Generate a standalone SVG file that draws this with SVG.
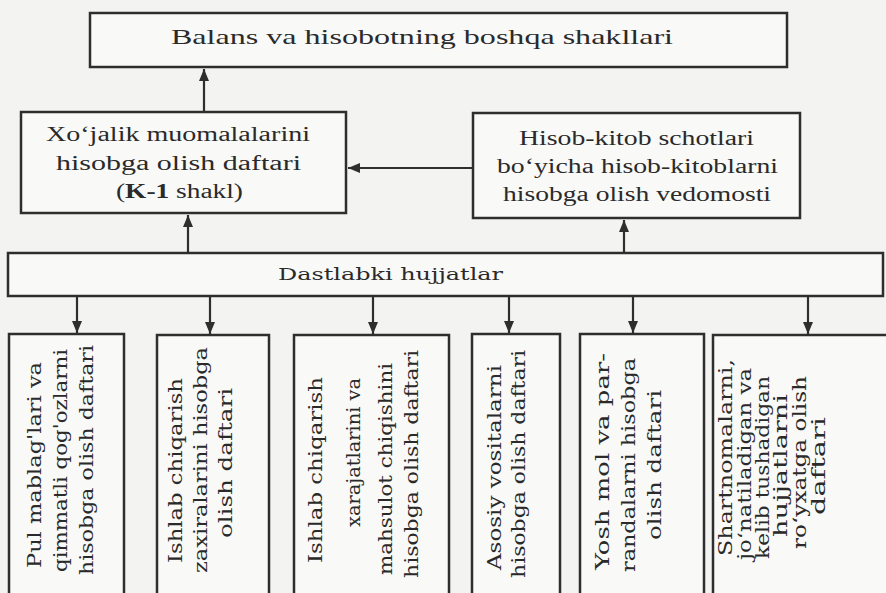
<svg xmlns="http://www.w3.org/2000/svg" width="886" height="593" viewBox="0 0 886 593">
<style>
.bx{fill:#f9f9f7;stroke:#2e2e2e;stroke-width:2.5}
.tt{font-family:"Liberation Serif","Times New Roman",serif;fill:#2a2a2a}
.tv{font-family:"DejaVu Serif","Liberation Serif",serif;font-size:18px;fill:#2a2a2a}
.cn{stroke:#2e2e2e;stroke-width:2.2;fill:none;marker-end:url(#ah)}
</style>
<defs>
<marker id="ah" viewBox="0 0 12 10" refX="12" refY="5" markerWidth="12" markerHeight="10" markerUnits="userSpaceOnUse" orient="auto">
<path d="M0,0 L12,5 L0,10 z" fill="#2e2e2e"/>
</marker>
</defs>
<rect width="886" height="593" fill="#f3f3f1"/>

<g id="connectors">
<path class="cn" d="M204,112 V69"/>
<path class="cn" d="M473,168 H348"/>
<path class="cn" d="M188,253 V215"/>
<path class="cn" d="M624,253 V220"/>
<path class="cn" d="M77,296 V333"/>
<path class="cn" d="M210,296 V334"/>
<path class="cn" d="M373,296 V334"/>
<path class="cn" d="M509,296 V333"/>
<path class="cn" d="M633,296 V333"/>
<path class="cn" d="M808,296 V334"/>
</g>

<g id="balans">
<rect class="bx" x="90" y="13" width="697" height="54"/>
<text class="tt" x="171" y="44" font-size="22" textLength="502" lengthAdjust="spacingAndGlyphs">Balans va hisobotning boshqa shakllari</text>
</g>

<g id="xojalik">
<rect class="bx" x="21" y="112" width="325" height="101"/>
<text class="tt" x="46" y="141" font-size="20" textLength="264" lengthAdjust="spacingAndGlyphs">Xo‘jalik muomalalarini</text>
<text class="tt" x="56" y="170" font-size="20" textLength="245" lengthAdjust="spacingAndGlyphs">hisobga olish  daftari</text>
<text class="tt" x="116" y="198" font-size="20" textLength="127" lengthAdjust="spacingAndGlyphs">(<tspan font-weight="bold">K-1</tspan> shakl)</text>
</g>

<g id="vedomost">
<rect class="bx" x="473" y="113" width="327" height="105"/>
<text class="tt" x="519" y="145" font-size="20" textLength="235" lengthAdjust="spacingAndGlyphs">Hisob-kitob schotlari</text>
<text class="tt" x="497" y="173" font-size="20" textLength="281" lengthAdjust="spacingAndGlyphs">bo‘yicha hisob-kitoblarni</text>
<text class="tt" x="503" y="201" font-size="20" textLength="268" lengthAdjust="spacingAndGlyphs">hisobga olish vedomosti</text>
</g>

<g id="dastlabki">
<rect class="bx" x="8" y="253" width="875" height="43"/>
<text class="tv" x="278" y="280" textLength="225" lengthAdjust="spacingAndGlyphs" style="font-size:17px">Dastlabki hujjatlar</text>
</g>

<g id="pul">
<rect class="bx" x="9" y="334" width="115" height="275"/>
<text class="tv" transform="rotate(-90)" x="-568" y="41" textLength="206" lengthAdjust="spacingAndGlyphs">Pul mablag'lari va</text>
<text class="tv" transform="rotate(-90)" x="-572" y="67" textLength="223" lengthAdjust="spacingAndGlyphs">qimmatli qog'ozlarni</text>
<text class="tv" transform="rotate(-90)" x="-575" y="93" textLength="230" lengthAdjust="spacingAndGlyphs">hisobga olish daftari</text>
</g>

<g id="zaxira">
<rect class="bx" x="157" y="335" width="112" height="275"/>
<text class="tv" transform="rotate(-90)" x="-563" y="182" textLength="185" lengthAdjust="spacingAndGlyphs">Ishlab chiqarish</text>
<text class="tv" transform="rotate(-90)" x="-573" y="207" textLength="226" lengthAdjust="spacingAndGlyphs">zaxiralarini hisobga</text>
<text class="tv" transform="rotate(-90)" x="-538" y="232" textLength="150" lengthAdjust="spacingAndGlyphs">olish daftari</text>
</g>

<g id="xarajat">
<rect class="bx" x="294" y="335" width="155" height="275"/>
<text class="tv" transform="rotate(-90)" x="-563" y="322" textLength="186" lengthAdjust="spacingAndGlyphs">Ishlab chiqarish</text>
<text class="tv" transform="rotate(-90)" x="-527" y="360" textLength="149" lengthAdjust="spacingAndGlyphs">xarajatlarini va</text>
<text class="tv" transform="rotate(-90)" x="-575" y="392" textLength="212" lengthAdjust="spacingAndGlyphs">mahsulot chiqishini</text>
<text class="tv" transform="rotate(-90)" x="-578" y="418" textLength="228" lengthAdjust="spacingAndGlyphs">hisobga olish daftari</text>
</g>

<g id="asosiy">
<rect class="bx" x="472" y="334" width="88" height="275"/>
<text class="tv" transform="rotate(-90)" x="-570" y="501" textLength="205" lengthAdjust="spacingAndGlyphs">Asosiy vositalarni</text>
<text class="tv" transform="rotate(-90)" x="-578" y="525" textLength="228" lengthAdjust="spacingAndGlyphs">hisobga olish daftari</text>
</g>

<g id="yosh">
<rect class="bx" x="580" y="334" width="124" height="275"/>
<text class="tv" transform="rotate(-90)" x="-570" y="609" textLength="217" lengthAdjust="spacingAndGlyphs">Yosh mol va par-</text>
<text class="tv" transform="rotate(-90)" x="-572" y="635" textLength="214" lengthAdjust="spacingAndGlyphs">randalarni hisobga</text>
<text class="tv" transform="rotate(-90)" x="-540" y="661" textLength="150" lengthAdjust="spacingAndGlyphs">olish daftari</text>
</g>

<g id="shartnoma">
<rect class="bx" x="713" y="335" width="185" height="275"/>
<text class="tv" transform="rotate(-90)" x="-556" y="732" textLength="197" lengthAdjust="spacingAndGlyphs">Shartnomalarni,</text>
<text class="tv" transform="rotate(-90)" x="-560" y="751" textLength="192" lengthAdjust="spacingAndGlyphs">jo‘natiladigan va</text>
<text class="tv" transform="rotate(-90)" x="-559" y="769" textLength="183" lengthAdjust="spacingAndGlyphs">kelib tushadigan</text>
<text class="tv" transform="rotate(-90)" x="-537" y="787" textLength="143" lengthAdjust="spacingAndGlyphs">hujjatlarni</text>
<text class="tv" transform="rotate(-90)" x="-549" y="806" textLength="173" lengthAdjust="spacingAndGlyphs">ro‘yxatga olish</text>
<text class="tv" transform="rotate(-90)" x="-515" y="825" textLength="98" lengthAdjust="spacingAndGlyphs">daftari</text>
</g>
</svg>
